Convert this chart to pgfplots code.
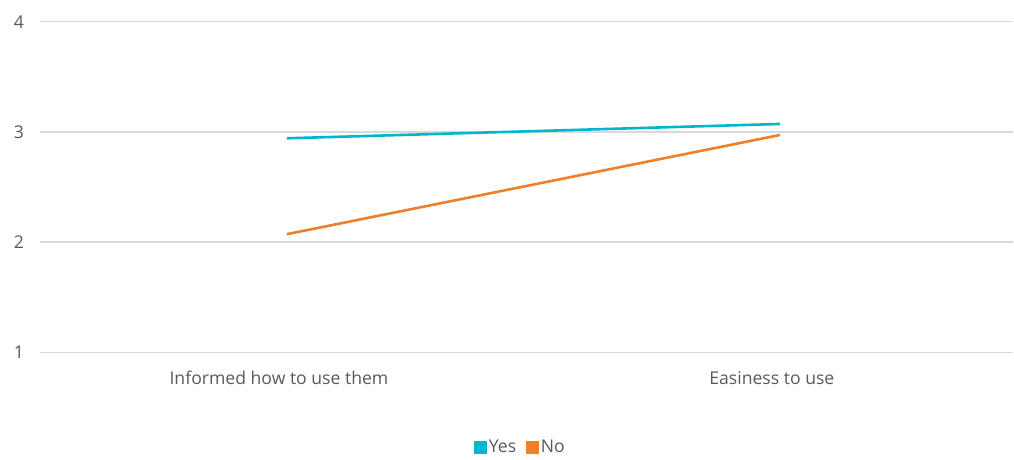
\documentclass[border=0pt]{standalone}
\usepackage{fontspec}
\setmainfont{Open Sans}
\usepackage{pgfplots}
\pgfplotsset{compat=1.18}
\definecolor{cyanline}{HTML}{00B5CE}
\definecolor{orangeline}{HTML}{F07F2A}
\definecolor{txt}{HTML}{595959}
\definecolor{gridc}{HTML}{D9D9D9}
\begin{document}
\begin{tikzpicture}[x=1pt,y=1pt]
\path[use as bounding box] (-40,-106.7) rectangle (974,352.3);
\begin{axis}[
  at={(0,0)}, anchor=south west,
  scale only axis, width=973pt, height=330.6pt,
  xmin=-0.501, xmax=1.473,
  ymin=1, ymax=4,
  ytick={1,2,3,4},
  xtick={0,1},
  xticklabels={Informed how to use them, Easiness to use},
  axis line style={draw=none},
  tick style={draw=none},
  xmajorgrids=false, ymajorgrids=true,
  grid style={draw=gridc, line width=1.3pt},
  font=\fontsize{17.6}{20}\selectfont\color{txt},
  /pgf/number format/assume math mode=true,
  yticklabel style={anchor=center, xshift=-21pt},
  xticklabel style={anchor=center, yshift=-26pt, xshift=-8pt},
  legend style={at={(0.5,0)}, anchor=center, yshift=-95pt, xshift=-6pt, draw=none, fill=none,
    legend columns=2, font=\fontsize{17.6}{20}\selectfont\color{txt},
    /tikz/every even column/.append style={column sep=8pt}},
  legend image code/.code={\fill[#1] (0pt,-5pt) rectangle (10pt,5pt);},
]
\addplot[cyanline, line width=2.6pt] coordinates {(0,2.942) (1,3.072)};
\addlegendentry{Yes}
\addplot[orangeline, line width=2.6pt] coordinates {(0,2.072) (1,2.972)};
\addlegendentry{No}
\end{axis}
\end{tikzpicture}
\end{document}
